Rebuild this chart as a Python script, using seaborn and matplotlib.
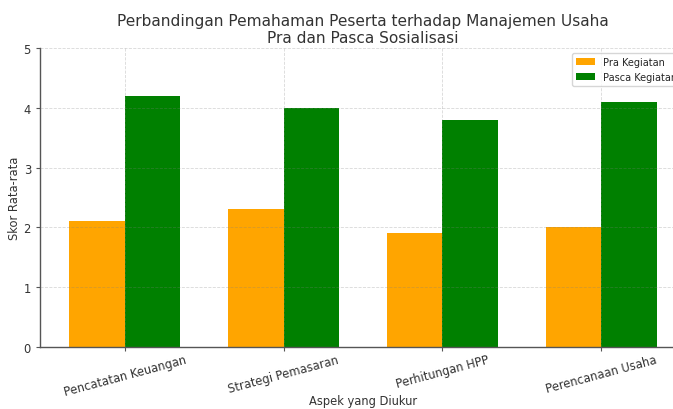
import matplotlib
matplotlib.use("Agg")
import matplotlib.pyplot as plt
import seaborn as sns
import pandas as pd

categories = ["Pencatatan Keuangan", "Strategi Pemasaran", "Perhitungan HPP", "Perencanaan Usaha"]
pra = [2.1, 2.3, 1.9, 2.0]
pasca = [4.2, 4.0, 3.8, 4.1]
series = ["Pra Kegiatan", "Pasca Kegiatan"]
colors = ["orange", "green"]

df = pd.DataFrame({
    "Aspek": categories * 2,
    "Skor": pra + pasca,
    "Kelompok": [series[0]] * len(categories) + [series[1]] * len(categories),
})

sns.set_style("white")
plt.rcParams["font.family"] = ["DejaVu Sans"]

fig = plt.figure(figsize=(6.73, 4.10), dpi=100)
ax = fig.add_axes([40 / 673, 1 - 348 / 410, 646 / 673, 299 / 410])

sns.barplot(data=df, x="Aspek", y="Skor", hue="Kelompok", palette=colors,
            width=0.7, linewidth=0, saturation=1, ax=ax, errorbar=None)

ax.set_xlim(-0.535, 3.535)
ax.set_ylim(0, 5)
ax.set_yticks([0, 1, 2, 3, 4, 5])
ax.grid(True, linestyle="--", color="gray", alpha=0.3, linewidth=0.6)
ax.set_axisbelow(False)
for s in ["top", "right"]:
    ax.spines[s].set_visible(False)
for s in ["left", "bottom"]:
    ax.spines[s].set_color("#555555")
    ax.spines[s].set_linewidth(1.0)
ax.tick_params(axis="both", colors="#333333", labelsize=8.3, length=3, color="#555555", left=True, bottom=True)
ax.tick_params(axis="x", pad=1)
plt.setp(ax.get_xticklabels(), rotation=15)
ax.set_xlabel("Aspek yang Diukur", fontsize=8.3, color="#333333")
ax.xaxis.set_label_coords(0.5, -0.158)
ax.set_ylabel("Skor Rata-rata", fontsize=8.3, color="#333333")
ax.yaxis.set_label_coords(-0.029, 0.5)
ax.set_title("Perbandingan Pemahaman Peserta terhadap Manajemen Usaha\nPra dan Pasca Sosialisasi",
             fontsize=11.1, color="#333333", pad=4, linespacing=1.17)
leg = ax.legend(loc="upper right", fontsize=7, frameon=True, title=None)
leg.get_frame().set_edgecolor("#cccccc")

fig.savefig("out.png", dpi=100)
